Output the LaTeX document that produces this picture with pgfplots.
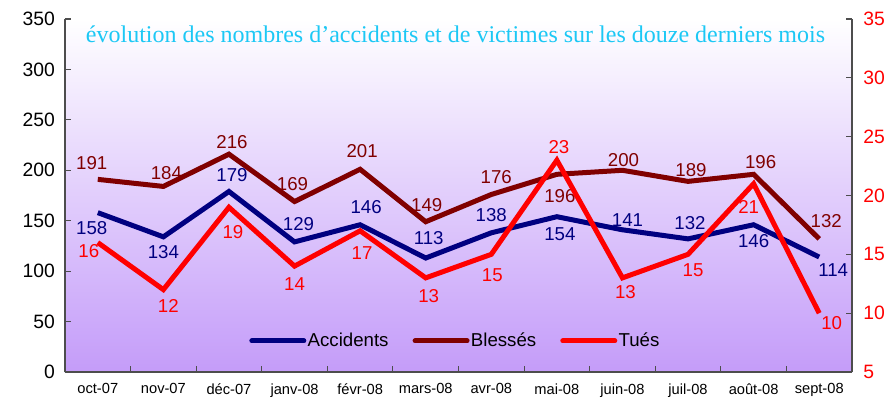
\documentclass[border=0pt]{standalone}
\usepackage{fontspec}
\setmainfont{Liberation Sans}
\newfontfamily\titlefont{Liberation Serif}
\usepackage{pgfplots}
\usepackage{pgfplotstable}
\pgfplotsset{compat=1.18}
\definecolor{Acc}{HTML}{000080}
\definecolor{Bles}{HTML}{800000}
\definecolor{Tues}{HTML}{FF0000}
\definecolor{Titre}{HTML}{1CC8F5}
\definecolor{Fond}{HTML}{C49CF9}
\definecolor{Trait}{HTML}{4D4D4D}

% x = centre du mois ; dx/dy = decalage des etiquettes (px)
\pgfplotstableread{
x    acc adx ady   bl  bdx bdy   tu tdx  tdy
0.5  158 -6  -15   191 -6  16    16 -9   -9
1.5  134  0  -15   184  3  13    12  5   -16.5
2.5  179  3   16   216  3  12.5  19  4   -25
3.5  129  4   18   169 -2  17    14  0   -18
4.5  146  6   18   201  2  18    17  2   -22.5
5.5  113  3   20   149  1  17    13  3   -18
6.5  138  0   18   176  5  17    15  1   -20.7
7.5  154  3  -17.6 196  3  -21.7 23  2    13
8.5  141  5   10   200  1  10    13  3   -14
9.5  132  2   16   189  3  11    15  5   -16
10.5 146  0  -16   196  7  12    21 -5   -23
11.5 114 14  -13   132  7  18    10 12.5 -9.5
}\mois

\pgfplotsset{
  moisaxe/.style={scale only axis,width=590.25pt,height=264.75pt,xmin=0,xmax=12,clip=false,
    /pgf/number format/assume math mode=true,
    axis line style={Trait,line width=0.9pt},tick style={Trait,line width=0.8pt},
    tick align=inside,major tick length=4.5pt,
    every non boxed x axis/.append style={x axis line style=-},
    every non boxed y axis/.append style={y axis line style=-},
    yticklabel style={font=\fontsize{14.5}{16}\selectfont}},
  etiq/.style n args={3}{nodes near coords,
    visualization depends on={\thisrow{#2}\as\ldx},
    visualization depends on={\thisrow{#3}\as\ldy},
    every node near coord/.append style={anchor=center,text=#1,inner sep=0pt,
      font=\fontsize{14}{16}\selectfont,xshift=\ldx*0.75pt,yshift=\ldy*0.75pt}},
  courbe/.style={#1,line width=3.75pt}
}

\begin{document}
\begin{tikzpicture}
\begin{axis}[moisaxe,ymin=0,ymax=350,ytick={0,50,...,350},
  axis x line*=bottom,axis y line*=left,
  xtick={0,...,11},
  xticklabels={oct-07,nov-07,déc-07,janv-08,févr-08,mars-08,avr-08,mai-08,juin-08,juil-08,août-08,sept-08},
  xticklabel style={xshift=24.6pt,yshift=-5pt,font=\fontsize{11}{13}\selectfont},
  yticklabel style={xshift=-4pt},
  axis background/.style={top color=white,bottom color=Fond},
  legend style={at={(0.4956,0.088)},anchor=center,legend columns=3,draw=none,fill=none,
    font=\fontsize{14}{16}\selectfont,nodes={inner xsep=1pt},
    /tikz/every even column/.append style={column sep=17pt}},
  legend image code/.code={\draw[#1] (0pt,0pt) -- (39pt,0pt);}]
\addlegendimage{Acc,line width=3.75pt,line cap=round}
\addlegendentry{Accidents}
\addlegendimage{Bles,line width=3.75pt,line cap=round}
\addlegendentry{Blessés}
\addlegendimage{Tues,line width=3.75pt,line cap=round}
\addlegendentry{Tués}
\addplot[courbe=Bles,etiq={Bles}{bdx}{bdy},forget plot] table[x=x,y=bl]{\mois};
\addplot[courbe=Acc,etiq={Acc}{adx}{ady},forget plot] table[x=x,y=acc]{\mois};
\end{axis}
\begin{axis}[moisaxe,ymin=5,ymax=35,ytick={5,10,...,35},
  axis y line*=right,axis x line=none,
  yticklabel style={text=Tues,xshift=5pt}]
\addplot[courbe=Tues,etiq={Tues}{tdx}{tdy}] table[x=x,y=tu]{\mois};
\end{axis}
\node[font=\titlefont\fontsize{18}{20}\selectfont,text=Titre,anchor=base]
  at (292.9pt,247pt) {évolution des nombres d’accidents et de victimes sur les douze derniers mois};
\pgfresetboundingbox
\path[use as bounding box] (-48.75pt,-21.75pt) rectangle (615pt,279pt);
\end{tikzpicture}
\end{document}
